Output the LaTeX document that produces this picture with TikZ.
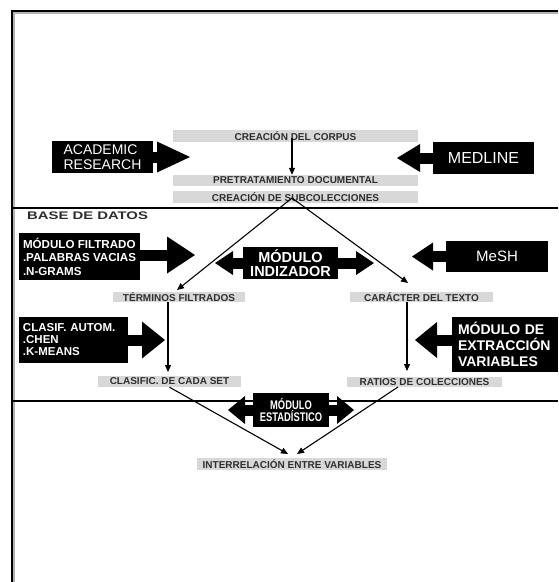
\documentclass[tikz,border=0pt]{standalone}
\usepackage{fontspec}
\setmainfont{Liberation Sans}
\newfontfamily\narrowfont[FakeStretch=0.75]{Liberation Sans}
\newfontfamily\widefont[FakeStretch=1.35]{Liberation Sans}
\usetikzlibrary{arrows.meta}
\definecolor{boxgray}{HTML}{D8D8D8}
\definecolor{txtgray}{HTML}{2E2E2E}
\begin{document}
\begin{tikzpicture}[x=1pt,y=-1pt,
  gbox/.style={fill=boxgray, text=txtgray, font=\bfseries\fontsize{10}{10}\selectfont, inner sep=0pt, anchor=center},
  bbox/.style={fill=black, text=white, inner sep=0pt, anchor=center},
  blk/.style 2 args={line width=11pt, -{Triangle[length=#1,width=#2,line width=0pt]}},
  thinarrow/.style={line width=1.1pt, -{Triangle[length=7pt,width=6pt]}},
  sepline/.style={line width=1.5pt}]
\useasboundingbox (0,0) rectangle (558,582);
\fill[white] (0,0) rectangle (558,582);
% frame
\draw[gray!60, line width=1.2pt] (14,582) -- (14,13) -- (558,13);
\draw[line width=1.8pt] (12,582) -- (12,11) -- (558,11);
\draw[sepline] (12,208) -- (558,208);
\draw[sepline] (12,401) -- (558,401);
% grey boxes
\node[gbox, minimum width=245pt, minimum height=12pt] (corpus) at (295.5,136) {CREACIÓN DEL CORPUS};
\node[gbox, minimum width=245pt, minimum height=11pt] (pretrat) at (295.5,180.5) {PRETRATAMIENTO DOCUMENTAL};
\node[gbox, minimum width=245pt, minimum height=12pt] (subcol) at (295.5,197) {CREACIÓN DE SUBCOLECCIONES};
\node[gbox, minimum width=132pt, minimum height=10pt] (terminos) at (179,297) {TÉRMINOS FILTRADOS};
\node[gbox, minimum width=143pt, minimum height=10pt] (caracter) at (421.5,297) {CARÁCTER DEL TEXTO};
\node[gbox, minimum width=143pt, minimum height=11pt] (clasific) at (169.5,381.5) {CLASIFIC. DE CADA SET};
\node[gbox, minimum width=155pt, minimum height=10pt] (ratios) at (424.5,382) {RATIOS DE COLECCIONES};
\node[gbox, minimum width=190pt, minimum height=12pt] (interrel) at (292,464) {INTERRELACIÓN ENTRE VARIABLES};
\node[anchor=west, inner sep=0pt, text=txtgray, font=\widefont\bfseries\fontsize{11}{11}\selectfont] (bd) at (27,216) {BASE DE DATOS};
% thin connectors
\coordinate (c0) at (292,138);
\draw[thinarrow] (c0) -- (c0 |- pretrat.north);
\coordinate (apex) at (292,198);
\coordinate (tT) at (177,290);
\coordinate (tK) at (408,283);
\draw[thinarrow] (apex) -- (tT);
\draw[thinarrow] (apex) -- (tK);
\coordinate (tCl) at (168,372);
\draw[thinarrow] (tCl |- terminos.south) -- (tCl);
\coordinate (tRa) at (407,371);
\draw[thinarrow] (tRa |- caracter.south) -- (tRa);
\coordinate (tI1) at (288,454);
\coordinate (tI2) at (297,454);
\coordinate (r0) at (398,387);
\draw[thinarrow] (clasific.south) -- (tI1);
\draw[thinarrow] (r0) -- (tI2);
% black boxes
\node[bbox, minimum width=101pt, minimum height=32pt, align=left, font=\fontsize{14}{15}\selectfont] (academic) at (102.5,157) {ACADEMIC\\RESEARCH};
\node[bbox, minimum width=101pt, minimum height=32pt, font=\fontsize{16}{16}\selectfont] (medline) at (483.5,158) {MEDLINE};
\node[bbox, minimum width=121pt, minimum height=47pt, align=left, font=\bfseries\fontsize{11.6}{13.5}\selectfont] (filtrado) at (79.5,256.5) {MÓDULO FILTRADO\\.PALABRAS VACIAS\\.N-GRAMS};
\node[bbox, minimum width=95pt, minimum height=32pt, align=center, font=\bfseries\fontsize{14.5}{14}\selectfont] (indizador) at (290.5,263) {MÓDULO\\INDIZADOR};
\node[bbox, minimum width=102pt, minimum height=31pt, font=\fontsize{15}{15}\selectfont] (mesh) at (497,256.5) {MeSH};
\node[bbox, minimum width=109pt, minimum height=46pt, text width=101pt, align=left, font=\bfseries\fontsize{11.5}{12}\selectfont] (clasif) at (73.5,340) {CLASIF. AUTOM.\\.CHEN\\.K-MEANS};
\node[bbox, minimum width=106pt, minimum height=55pt, text width=94pt, align=left, font=\bfseries\fontsize{14}{16}\selectfont] (extraccion) at (505,344.5) {MÓDULO DE\\EXTRACCIÓN\\VARIABLES};
\node[bbox, minimum width=76pt, minimum height=34pt, align=center, font=\narrowfont\bfseries\fontsize{12.5}{12.7}\selectfont] (estadistico) at (291,410) {MÓDULO\\ESTADÍSTICO};
% block arrows
\coordinate (tA) at (190,157);
\draw[blk={33pt}{31pt}] (academic.east) -- (tA);
\coordinate (tM) at (397,158);
\draw[blk={23pt}{28pt}] (medline.west) -- (tM);
\coordinate (tF) at (195,255);
\draw[blk={28pt}{37pt}] (filtrado.east |- tF) -- (tF);
\coordinate (tIl) at (215,263);
\coordinate (tIr) at (374,263);
\draw[blk={18pt}{24pt}] (indizador.west) -- (tIl);
\draw[blk={18pt}{24pt}] (indizador.east) -- (tIr);
\coordinate (tS) at (412,256.5);
\draw[blk={21pt}{28pt}] (mesh.west) -- (tS);
\coordinate (tC) at (165,340);
\draw[blk={23pt}{37pt}] (clasif.east) -- (tC);
\coordinate (tE) at (415,340);
\draw[blk={22pt}{36pt}] (extraccion.west |- tE) -- (tE);
\coordinate (tEl) at (228,410);
\coordinate (tEr) at (354,410);
\draw[blk={17pt}{28pt}] (estadistico.west) -- (tEl);
\draw[blk={17pt}{28pt}] (estadistico.east) -- (tEr);
\end{tikzpicture}
\end{document}
